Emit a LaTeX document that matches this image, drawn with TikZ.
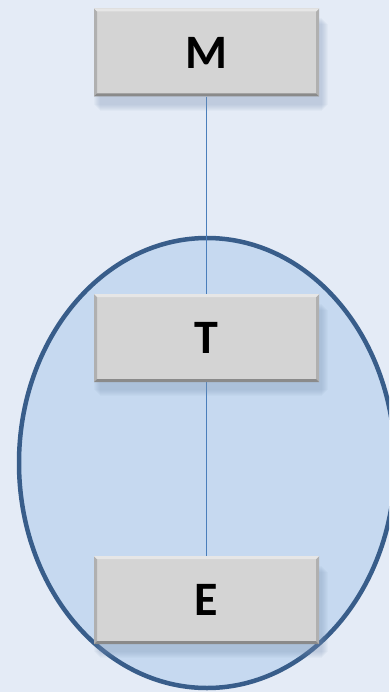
\documentclass[tikz,border=0pt]{standalone}
\usepackage{fontspec}
\setmainfont{Carlito}
\definecolor{bgc}{HTML}{E4EBF6}
\definecolor{ellfill}{HTML}{C6D9F0}
\definecolor{elldraw}{HTML}{385D8A}
\definecolor{linec}{HTML}{4A7EBB}
\definecolor{boxc}{HTML}{D4D4D4}
\definecolor{boxlight}{HTML}{E6E6E6}
\definecolor{boxdark}{HTML}{8A8A8A}
\definecolor{boxside}{HTML}{B0B0B0}
\definecolor{shadec}{HTML}{7F96B8}
\pgfdeclarelayer{bgl}
\pgfdeclarelayer{ell}
\pgfdeclarelayer{lines}
\pgfdeclarelayer{shade}
\pgfsetlayers{bgl,ell,lines,shade,main}
\tikzset{
  boxnode/.style={rectangle, minimum width=225pt, minimum height=88pt, inner sep=0pt,
    fill=boxc, font=\fontsize{48}{52}\selectfont\bfseries,
    path picture={
      \fill[boxside] (path picture bounding box.south west) -- (path picture bounding box.north west)
        -- ([xshift=3pt,yshift=-3pt]path picture bounding box.north west) -- ([xshift=3pt,yshift=3pt]path picture bounding box.south west) -- cycle;
      \fill[boxside] (path picture bounding box.south east) -- (path picture bounding box.north east)
        -- ([xshift=-3pt,yshift=-3pt]path picture bounding box.north east) -- ([xshift=-3pt,yshift=3pt]path picture bounding box.south east) -- cycle;
      \fill[boxlight] (path picture bounding box.north west) -- (path picture bounding box.north east)
        -- ([xshift=-3pt,yshift=-3pt]path picture bounding box.north east) -- ([xshift=3pt,yshift=-3pt]path picture bounding box.north west) -- cycle;
      \fill[boxdark] (path picture bounding box.south west) -- (path picture bounding box.south east)
        -- ([xshift=-3pt,yshift=3pt]path picture bounding box.south east) -- ([xshift=3pt,yshift=3pt]path picture bounding box.south west) -- cycle;
    }},
  conn/.style={draw=linec, line width=1.2pt}
}
\begin{document}
\begin{tikzpicture}[x=1pt,y=-1pt]
\useasboundingbox (0,0) rectangle (389,692);
\begin{pgfonlayer}{bgl}
\fill[bgc] (0,0) rectangle (389,692);
\end{pgfonlayer}
\begin{pgfonlayer}{ell}
\begin{scope}
\clip (0,0) rectangle (389,692);
\draw[fill=ellfill, draw=elldraw, line width=4.5pt] (207,463) ellipse [x radius=188, y radius=225];
\end{scope}
\end{pgfonlayer}
\node[boxnode] (m) at (206.5,52.5) {M};
\node[boxnode] (t) at (206.5,338) {T};
\node[boxnode] (e) at (206.5,600) {E};
\begin{pgfonlayer}{shade}
\foreach \n in {m,t,e}{
  \foreach \i in {0,1,2,3,4,5,6}{
    \fill[shadec, opacity=0.06] ([xshift={6pt-\i pt},yshift={-14pt+\i pt}]\n.south west) rectangle ([xshift={3pt+\i pt},yshift={-10pt-\i pt}]\n.north east);
  }
}
\end{pgfonlayer}
\begin{pgfonlayer}{lines}
\draw[conn] (m.south) -- (t.north);
\draw[conn] (t.south) -- (e.north);
\end{pgfonlayer}
\end{tikzpicture}
\end{document}
